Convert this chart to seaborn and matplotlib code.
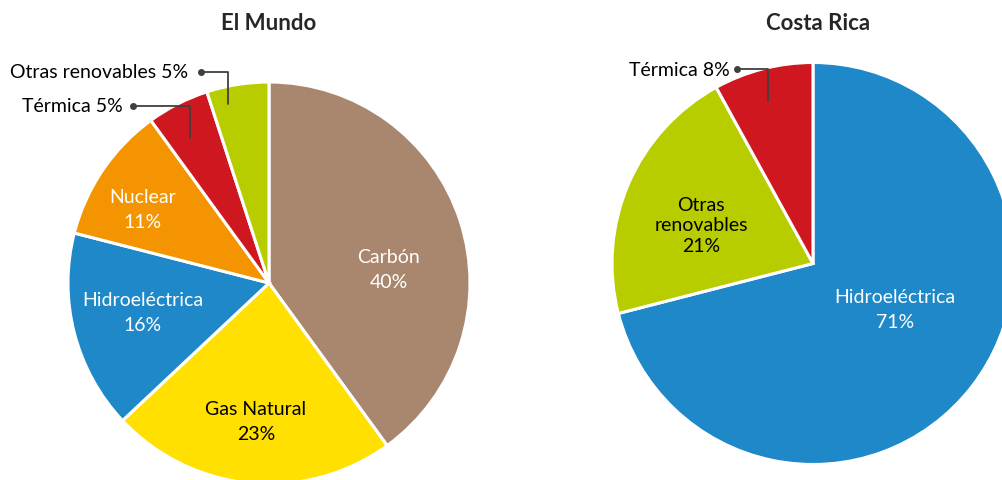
import matplotlib
matplotlib.use("Agg")
import matplotlib.pyplot as plt
import seaborn as sns

# data
mundo_labels = ["Carbón", "Gas Natural", "Hidroeléctrica", "Nuclear", "Térmica", "Otras renovables"]
mundo_values = [40, 23, 16, 11, 5, 5]
cr_labels = ["Hidroeléctrica", "Otras renovables", "Térmica"]
cr_values = [71, 21, 8]

colors = {
    "Carbón": "#A9876E",
    "Gas Natural": "#FFE000",
    "Hidroeléctrica": "#1E88C8",
    "Nuclear": "#F39400",
    "Térmica": "#CE171E",
    "Otras renovables": "#B8CD00",
}

sns.set_theme(style="white")
plt.rcParams["font.family"] = ["Lato", "DejaVu Sans"]

W, H = 1002, 481
fig = plt.figure(figsize=(W / 100, H / 100), dpi=100)
ax = fig.add_axes([0, 0, 1, 1])

R = 201
c_left = (269, H - 284)
c_right = (813, H - 264.5)

wp = dict(edgecolor="white", linewidth=2.2)
ax.pie(mundo_values, colors=[colors[l] for l in mundo_labels], startangle=90,
       counterclock=False, center=c_left, radius=R, frame=True, wedgeprops=wp)
ax.pie(cr_values, colors=[colors[l] for l in cr_labels], startangle=90,
       counterclock=False, center=c_right, radius=R, frame=True, wedgeprops=wp)

ax.set_xlim(0, W)
ax.set_ylim(0, H)
ax.set_aspect("equal")
ax.axis("off")

fs = 14
# inside labels (x, y in image pixels)
inside = [
    ("Carbón\n40%", 389, 270, "white", 1.6),
    ("Gas Natural\n23%", 256, 422, "black", 1.6),
    ("Hidroeléctrica\n16%", 143, 313, "white", 1.6),
    ("Nuclear\n11%", 143, 210, "white", 1.55),
    ("Hidroeléctrica\n71%", 895, 310, "white", 1.55),
    ("Otras\nrenovables\n21%", 701, 226, "black", 1.25),
]
for txt, x, y, col, ls in inside:
    ax.text(x, H - y, txt, ha="center", va="center", color=col, fontsize=fs,
            linespacing=ls)

# outside labels with leader lines
outside = [
    ("Otras renovables 5%", 188, 73, [(201, 73), (228, 73), (228, 105)]),
    ("Térmica 5%", 123, 107, [(133, 107), (190, 107), (190, 139)]),
    ("Térmica 8%", 730, 71, [(737, 70), (768, 70), (768, 102)]),
]
for txt, x, y, pts in outside:
    ax.text(x, H - y, txt, ha="right", va="center", color="black", fontsize=fs)
    xs = [p[0] for p in pts]
    ys = [H - p[1] for p in pts]
    ax.plot(xs, ys, color="#404040", lw=1.3)
    ax.plot(xs[0], ys[0], "o", color="#404040", ms=4)

ax.text(269, H - 24, "El Mundo", ha="center", va="center", fontsize=16, fontweight="bold")
ax.text(818, H - 24, "Costa Rica", ha="center", va="center", fontsize=16, fontweight="bold")

fig.savefig("out.png", dpi=100)
